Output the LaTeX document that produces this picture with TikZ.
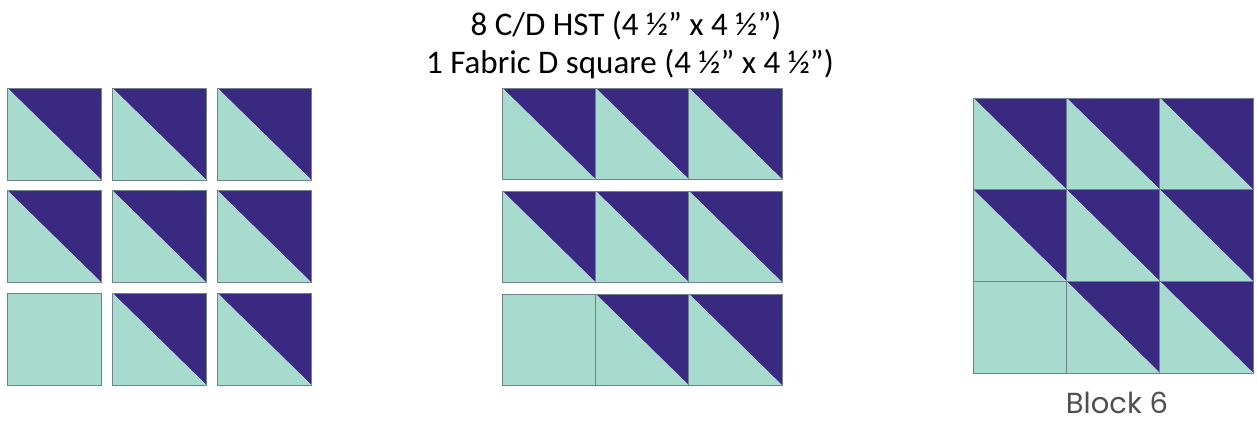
\documentclass[tikz,border=0pt]{standalone}
\usepackage{fontspec}
\setmainfont{Carlito}
\newfontfamily\blockfont{Poppins}
\usetikzlibrary{positioning}
\definecolor{hstdark}{RGB}{58,41,128}
\definecolor{hstlight}{RGB}{167,219,206}
\definecolor{seamcol}{RGB}{112,130,140}
\definecolor{seamlight}{RGB}{196,226,232}
\definecolor{labelgray}{RGB}{80,80,80}
\tikzset{
  patchedge/.style={draw=seamcol, line width=0.8pt},
  diagseam/.style={seamlight, line width=0.7pt},
  titletext/.style={font=\fontsize{33}{40}\selectfont, text=black, inner sep=0pt},
  blocktext/.style={font=\blockfont\fontsize{29}{34}\selectfont, text=labelgray, inner sep=0pt},
}
% half square triangle: x, y, width, height
\newcommand{\hstpatch}[4]{%
  \fill[hstlight] (#1,#2) rectangle ++(#3,#4);
  \fill[hstdark] (#1,#2) -- ++(#3,0) -- ++(0,#4) -- cycle;
  \draw[diagseam] (#1,#2) -- ++(#3,#4);
  \draw[patchedge] (#1,#2) rectangle ++(#3,#4);
}
% plain fabric D square: x, y, width, height
\newcommand{\plainpatch}[4]{%
  \fill[hstlight] (#1,#2) rectangle ++(#3,#4);
  \draw[patchedge] (#1,#2) rectangle ++(#3,#4);
}
% 3x3 layout: x0, y0, column step, row step, width, height
\newcommand{\quiltpanel}[6]{%
  \foreach \c in {0,1,2}{
    \foreach \r in {0,1}{
      \hstpatch{#1+#3*\c}{#2+#4*\r}{#5}{#6}
    }
  }
  \plainpatch{#1}{#2+2*#4}{#5}{#6}
  \hstpatch{#1+#3}{#2+2*#4}{#5}{#6}
  \hstpatch{#1+2*#3}{#2+2*#4}{#5}{#6}
}

\begin{document}
\begin{tikzpicture}[x=1pt, y=-1pt]
    \useasboundingbox (0,0) rectangle (1257,421);

    % heading
    \node[titletext, anchor=base] (hstline) at (626,35) {8 C/D HST (4 ½” x 4 ½”)};
    \node[titletext, anchor=base] (squareline) at (630,73) {1 Fabric D square (4 ½” x 4 ½”)};

    % loose patches
    \quiltpanel{7}{88}{105}{102.5}{94}{92}

    % rows sewn
    \quiltpanel{502}{88}{93.3}{103}{93.3}{91.5}

    % finished block
    \quiltpanel{973}{98}{93.3}{91.7}{93.3}{91.7}
    \node[blocktext, anchor=base] (blocklabel) at (1117,413) {Block 6};
  \end{tikzpicture}
\end{document}
